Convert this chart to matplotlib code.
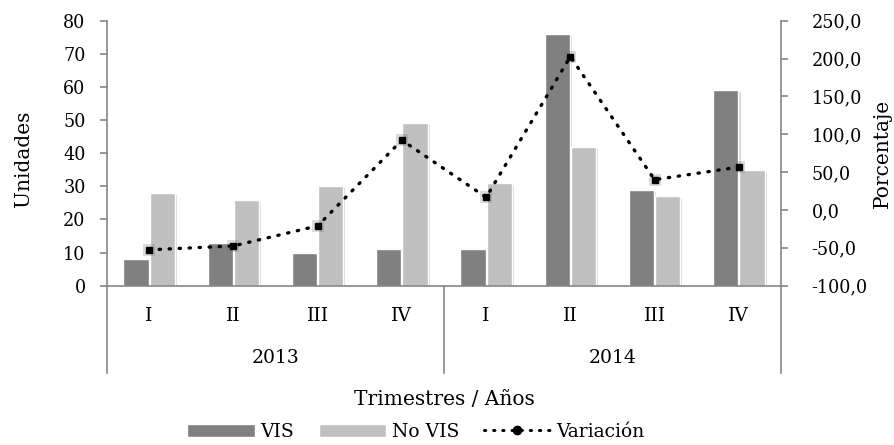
import matplotlib
matplotlib.use('Agg')
import matplotlib.pyplot as plt
import matplotlib.patheffects as pe
from matplotlib.ticker import FuncFormatter
from matplotlib.lines import Line2D
from matplotlib.patches import Patch

# Data
trimestres = ['I', 'II', 'III', 'IV', 'I', 'II', 'III', 'IV']
anios = ['2013', '2014']
vis = [8, 13, 10, 11, 11, 76, 29, 59]
no_vis = [28, 26, 30, 49, 31, 42, 27, 35]
variacion = [-52.6, -47.5, -21.0, 92.2, 16.7, 202.6, 40.0, 56.7]

plt.rcParams['font.family'] = ['DejaVu Serif']
plt.rcParams['font.size'] = 14.5

gris = '#868686'
num_size = 14
fig = plt.figure(figsize=(8.95, 4.45), dpi=100)
ax = fig.add_axes([0.1196, 0.358, 0.753, 0.5955])

x = list(range(len(trimestres)))
w = 0.30
shadow = [pe.SimplePatchShadow(offset=(1.5, -1.5), shadow_rgbFace='#d0d0d0', alpha=0.8), pe.Normal()]
b1 = ax.bar([i - 0.155 for i in x], vis, width=w, color='#808080', edgecolor='white', linewidth=1, zorder=2)
b2 = ax.bar([i + 0.155 for i in x], no_vis, width=w, color='#c0c0c0', edgecolor='white', linewidth=1, zorder=2)
for b in list(b1) + list(b2):
    b.set_path_effects(shadow)

ax.set_xlim(-0.5, 7.5)
ax.set_ylim(0, 80)
ax.set_yticks(range(0, 81, 10))
ax.set_xticks(x)
ax.set_xticklabels(trimestres, fontsize=13.5)
ax.tick_params(axis='x', length=0, pad=15)
ax.tick_params(axis='y', length=5, color=gris, width=1.2, pad=10.5, labelsize=num_size)
for s in ['top', 'right']:
    ax.spines[s].set_visible(False)
ax.spines['left'].set_color(gris)
ax.spines['bottom'].set_color(gris)
ax.spines['left'].set_linewidth(1.2)
ax.spines['bottom'].set_linewidth(1.2)
ax.set_ylabel('Unidades')
ax.yaxis.set_label_coords(-0.110, 0.48)

# group separators and year labels
trans = ax.get_xaxis_transform()
for xs in [-0.5, 3.5, 7.5]:
    ax.plot([xs, xs], [0, -0.33], color=gris, linewidth=1.2, transform=trans, clip_on=False)
for k, a in enumerate(anios):
    ax.text(1.5 + 4 * k, -0.273, a, transform=trans, ha='center', va='center', fontsize=13.5)
ax.text(3.5, -0.43, 'Trimestres / Años', transform=trans, ha='center', va='center')

ax2 = ax.twinx()
ax2.set_ylim(-100, 250)
ax2.set_yticks(range(-100, 251, 50))
ax2.yaxis.set_major_formatter(FuncFormatter(lambda v, p: f'{v:.1f}'.replace('.', ',')))
ax2.plot(x, variacion, 's', color='#707070', markersize=9, alpha=0.25, markeredgewidth=0, zorder=3)
ax2.plot(x, variacion, linestyle=(0, (0.4, 2.6)), dash_capstyle='round', color='black', linewidth=2.4,
         marker='s', markersize=5, zorder=4)
for s in ['top', 'left', 'bottom']:
    ax2.spines[s].set_visible(False)
ax2.spines['right'].set_color(gris)
ax2.spines['right'].set_linewidth(1.2)
ax2.tick_params(axis='y', length=5, color=gris, width=1.2, pad=17, labelsize=num_size)
for t in ax.get_yticklabels() + ax2.get_yticklabels():
    t.set_fontstretch('condensed')
ax2.set_ylabel('Porcentaje')
ax2.yaxis.set_label_coords(1.136, 0.5)

handles = [Patch(facecolor='#808080', edgecolor='white'),
           Patch(facecolor='#c0c0c0', edgecolor='white'),
           Line2D([0], [0], color='black', linestyle=(0, (0.4, 2.6)), dash_capstyle='round',
                  linewidth=2.2, marker='o', markersize=6)]
fig.legend(handles, ['VIS', 'No VIS', 'Variación'], loc='center', bbox_to_anchor=(0.465, 0.03),
           ncol=3, frameon=False, fontsize=13.5, handlelength=3.6, handleheight=0.7, handletextpad=0.3,
           columnspacing=1.3, borderaxespad=0)

fig.savefig('out.png', dpi=100)
